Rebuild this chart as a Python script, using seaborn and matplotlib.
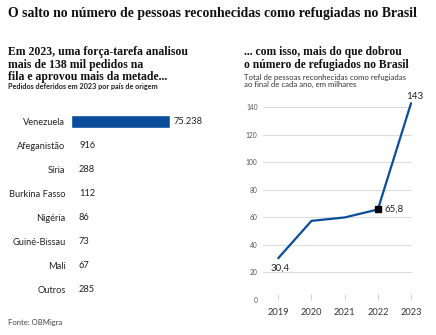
import matplotlib
matplotlib.use("Agg")
import matplotlib.pyplot as plt
import seaborn as sns
import pandas as pd

# ---- data ----
countries = ["Venezuela", "Afeganistão", "Síria", "Burkina Fasso", "Nigéria",
             "Guiné-Bissau", "Mali", "Outros"]
approved = [75238, 916, 288, 112, 86, 73, 67, 285]
approved_labels = ["75.238", "916", "288", "112", "86", "73", "67", "285"]

years = [2019, 2020, 2021, 2022, 2023]
refugees = [30.4, 57.5, 60.0, 65.8, 143.0]
y_ticks = [0, 20, 40, 60, 80, 100, 120, 140]

sns.set_theme(style="white")
plt.rcParams["font.family"] = ["Lato", "DejaVu Sans"]

W, H = 436, 335
fig = plt.figure(figsize=(W / 100, H / 100), dpi=100)
fig.patch.set_facecolor("white")


def px_axes(x0, y0, x1, y1):
    return fig.add_axes([x0 / W, 1 - y1 / H, (x1 - x0) / W, (y1 - y0) / H])


BLUE = "#0a4d9c"
SERIF = ["Liberation Serif", "DejaVu Serif"]

# ---- texts ----
fig.text(8 / W, 1 - 13 / H,
         "O salto no número de pessoas reconhecidas como refugiadas no Brasil",
         fontsize=9.9, fontweight="bold", family=SERIF, color="#111111",
         va="center", ha="left")
fig.text(8 / W, 1 - 46.5 / H,
         "Em 2023, uma força-tarefa analisou\nmais de 138 mil pedidos na\nfila e aprovou mais da metade...",
         fontsize=8.5, fontweight="bold", family=SERIF, color="#111111",
         va="top", ha="left", linespacing=1.02)
fig.text(8 / W, 1 - 86.5 / H, "Pedidos deferidos em 2023 por país de origem",
         fontsize=5.2, fontweight="bold", color="#222222", va="center", ha="left")
fig.text(244 / W, 1 - 46.5 / H,
         "... com isso, mais do que dobrou\no número de refugiados no Brasil",
         fontsize=8.4, fontweight="bold", family=SERIF, color="#111111",
         va="top", ha="left", linespacing=1.02)
fig.text(244 / W, 1 - 74 / H,
         "Total de pessoas reconhecidas como refugiadas\nao final de cada ano, em milhares",
         fontsize=5.6, color="#333333", va="top", ha="left", linespacing=0.95)
fig.text(8 / W, 1 - 322 / H, "Fonte: OBMigra", fontsize=5.5, color="#444444",
         va="center", ha="left")

# ---- left: horizontal bars ----
axb = px_axes(71, 109.7, 170, 302)
df_bar = pd.DataFrame({"pais": countries, "n": approved})
sns.barplot(data=df_bar, y="pais", x="n", ax=axb, color=BLUE, width=0.55,
            saturation=1, orient="h")
axb.set_xlim(0, max(approved))
axb.set_ylim(len(countries) - 0.5, -0.5)
axb.set_xlabel("")
axb.set_ylabel("")
axb.set_xticks([])
for s in axb.spines.values():
    s.set_visible(False)
axb.tick_params(axis="y", length=0, pad=4, labelsize=6.7, labelcolor="#222222")
for i, (v, lab) in enumerate(zip(approved, approved_labels)):
    axb.annotate(lab, (v, i), xytext=(2.5 if i == 0 else 5.5, 0), textcoords="offset points",
                 va="center", ha="left", fontsize=6.7, color="#222222",
                 annotation_clip=False)

# ---- right: line ----
axl = px_axes(263, 93.6, 411.7, 300)
df_line = pd.DataFrame({"ano": years, "v": refugees})
sns.lineplot(data=df_line, x="ano", y="v", ax=axl, color=BLUE, linewidth=1.6)
axl.plot([years[3]], [refugees[3]], marker="s", color="black", markersize=4,
         linestyle="none", zorder=5)
axl.set_xlim(2018.54, 2023.02)
axl.set_ylim(0, 150)
axl.set_xlabel("")
axl.set_ylabel("")
axl.set_yticks(y_ticks)
axl.set_xticks(years)
axl.set_xticklabels([str(y) for y in years])
axl.grid(axis="y", color="#dddddd", linewidth=0.8)
axl.grid(axis="x", visible=False)
for s in axl.spines.values():
    s.set_visible(False)
axl.tick_params(axis="y", length=0, pad=4, labelsize=4.8, labelcolor="#555555")
axl.tick_params(axis="x", direction="in", length=4, width=0.6, color="#cccccc",
                pad=6, labelsize=6.7, labelcolor="#333333", bottom=True)

axl.annotate("30,4", (years[0], refugees[0]), xytext=(1, -7), textcoords="offset points",
             ha="center", va="center", fontsize=7, color="#222222")
axl.annotate("65,8", (years[3], refugees[3]), xytext=(5, 0), textcoords="offset points",
             ha="left", va="center", fontsize=7, color="#222222")
axl.annotate("143", (years[4], refugees[4]), xytext=(3, 5), textcoords="offset points",
             ha="center", va="center", fontsize=7, color="#222222", annotation_clip=False)

fig.savefig("out.png", dpi=100, facecolor="white")
